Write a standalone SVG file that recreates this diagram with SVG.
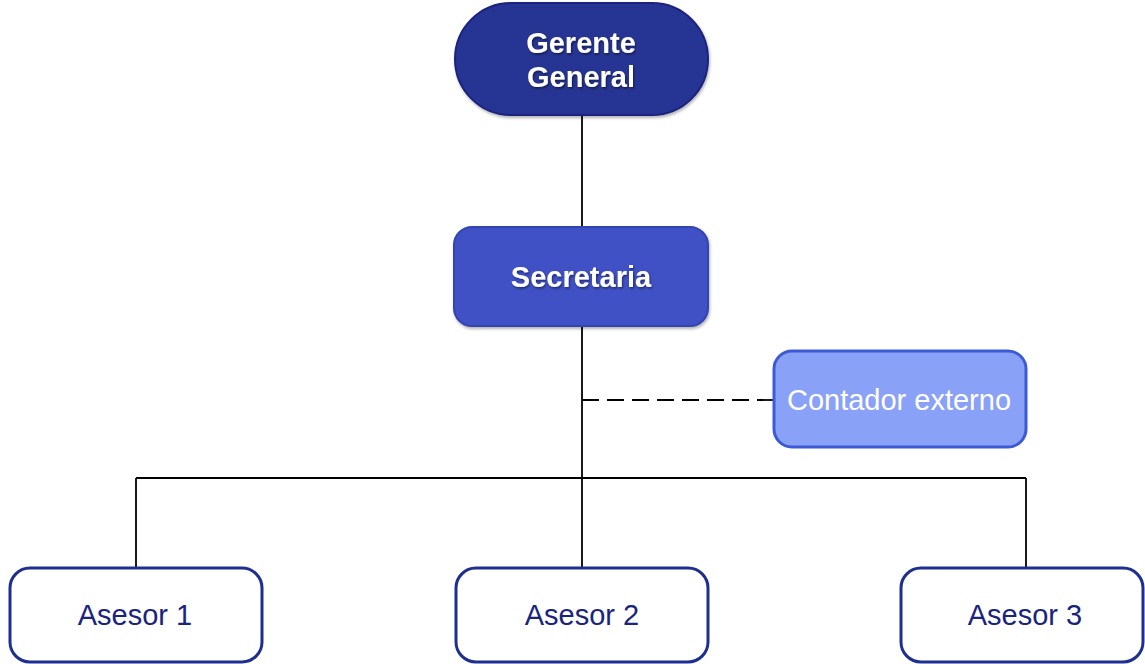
<svg xmlns="http://www.w3.org/2000/svg" width="1145" height="664" viewBox="0 0 1145 664">
<defs>
<filter id="ts" x="-10%" y="-20%" width="130%" height="150%">
<feDropShadow dx="1" dy="1.5" stdDeviation="1" flood-color="#000" flood-opacity="0.5"/>
</filter>
<filter id="bs" x="-10%" y="-10%" width="120%" height="130%">
<feDropShadow dx="1" dy="2" stdDeviation="1.5" flood-color="#000" flood-opacity="0.3"/>
</filter>
</defs>
<style>
.lbl{font-family:"Liberation Sans",Arial,sans-serif;font-size:29px;text-anchor:middle;dominant-baseline:central}
.bold{font-weight:bold;fill:#fff}
.line{stroke:#000;stroke-width:1.8;fill:none}
.ases{fill:#fff;stroke:#1f2f8f;stroke-width:3}
.atext{fill:#1a237e}
</style>
<g id="connectors">
<line class="line" x1="582" y1="115" x2="582" y2="227"/>
<line class="line" x1="582" y1="327" x2="582" y2="478"/>
<line class="line" x1="136" y1="478" x2="1026" y2="478"/>
<line class="line" x1="136" y1="478" x2="136" y2="568"/>
<line class="line" x1="582" y1="478" x2="582" y2="568"/>
<line class="line" x1="1026" y1="478" x2="1026" y2="568"/>
<line class="line" x1="582" y1="400" x2="773" y2="400" stroke-dasharray="17,8"/>
</g>
<g id="gerente">
<rect x="455" y="3" width="253" height="112" rx="56" fill="#283593" stroke="#1a237e" stroke-width="2" filter="url(#bs)"/>
<text class="lbl bold" x="581" y="43" filter="url(#ts)">Gerente</text>
<text class="lbl bold" x="581" y="77" filter="url(#ts)">General</text>
</g>
<g id="secretaria">
<rect x="454" y="227" width="254" height="99" rx="18" fill="#3f51c6" stroke="#3344b0" stroke-width="2" filter="url(#bs)"/>
<text class="lbl bold" x="581" y="277" filter="url(#ts)">Secretaria</text>
</g>
<g id="contador">
<rect x="774" y="351" width="252" height="96" rx="18" fill="#8aa1f8" stroke="#3d5ad6" stroke-width="3"/>
<text class="lbl" x="899" y="400" fill="#fff">Contador externo</text>
</g>
<g id="asesor1">
<rect class="ases" x="10" y="568" width="252" height="94" rx="20"/>
<text class="lbl atext" x="135" y="615">Asesor 1</text>
</g>
<g id="asesor2">
<rect class="ases" x="456" y="568" width="252" height="94" rx="20"/>
<text class="lbl atext" x="582" y="615">Asesor 2</text>
</g>
<g id="asesor3">
<rect class="ases" x="901" y="568" width="242" height="94" rx="20"/>
<text class="lbl atext" x="1025" y="615">Asesor 3</text>
</g>
</svg>
